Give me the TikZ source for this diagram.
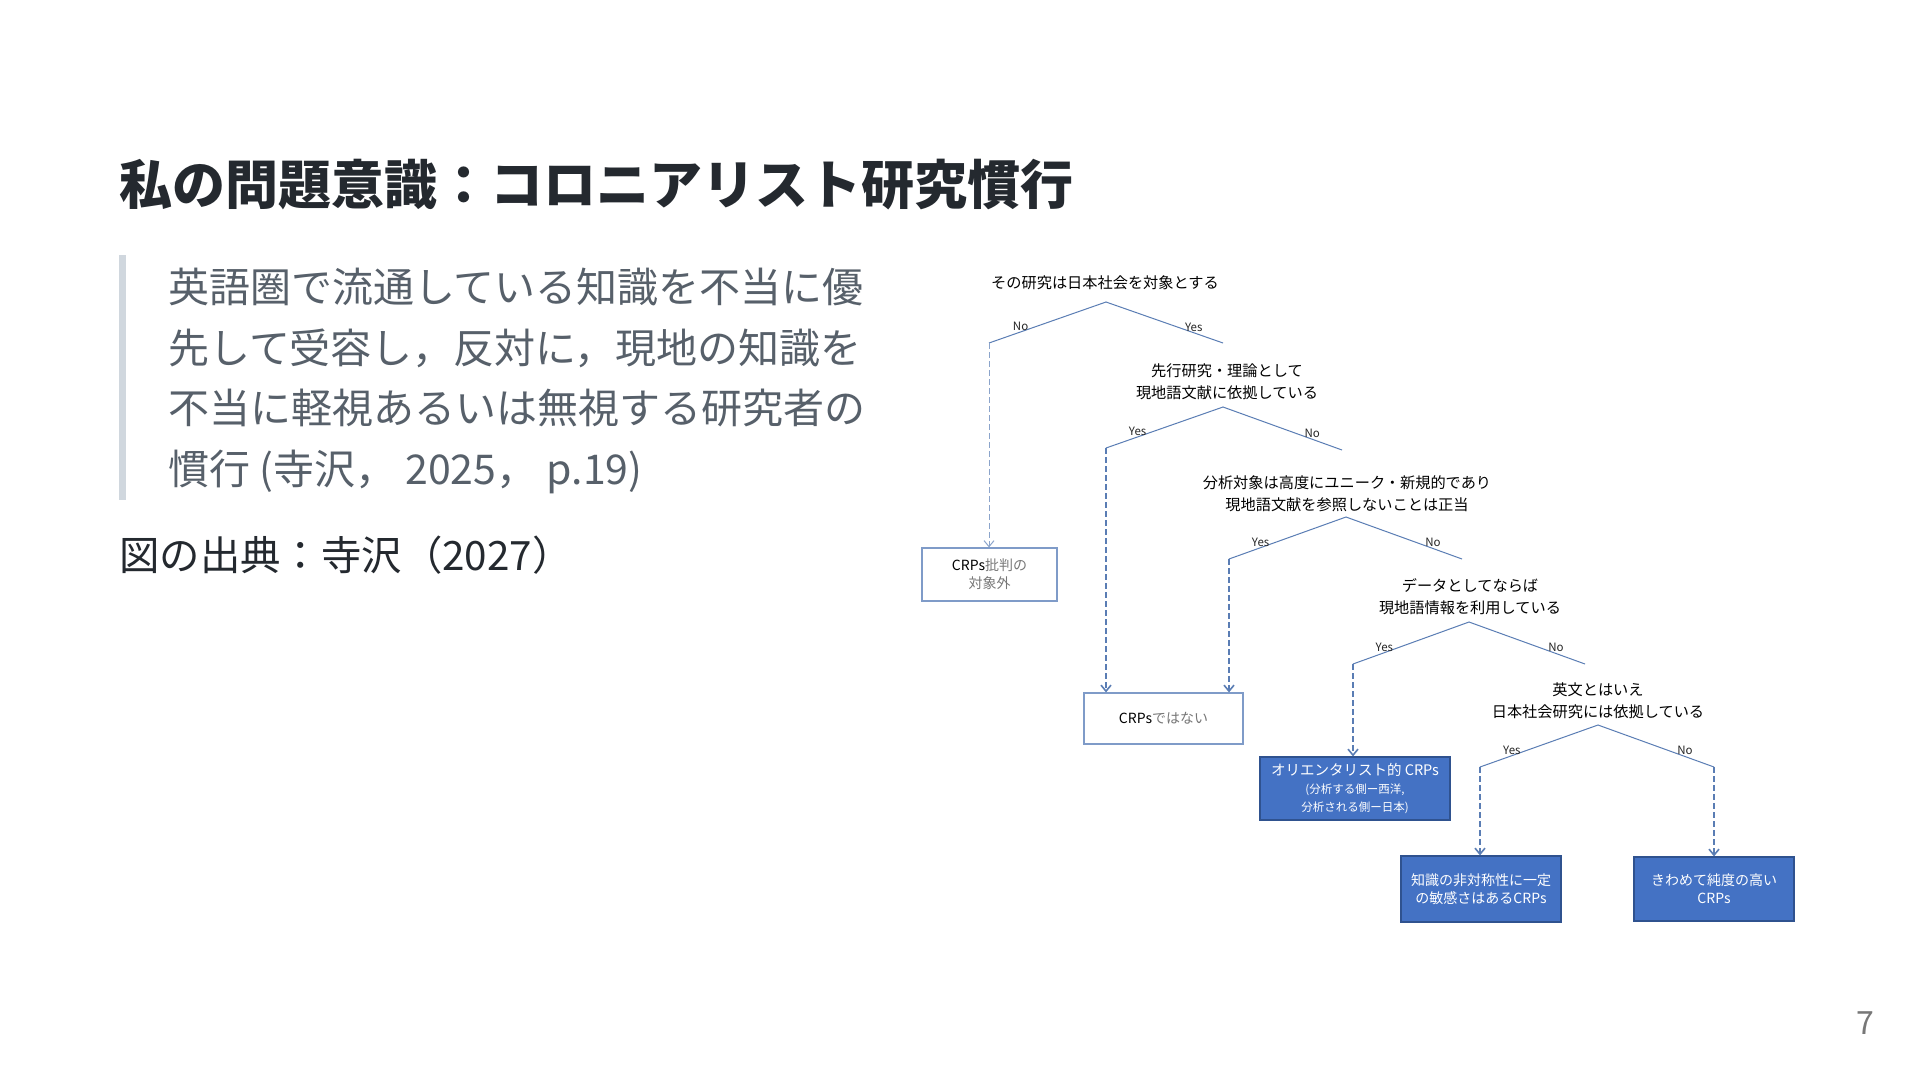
\documentclass[tikz,border=0pt]{standalone}
\usepackage{fontspec}
\setmainfont{Noto Sans CJK JP}
\usepackage{xcolor}
\usetikzlibrary{arrows.meta,positioning,calc}

\definecolor{titlegray}{HTML}{24292F}
\definecolor{quotegray}{HTML}{57606A}
\definecolor{barcolor}{HTML}{D0D7DE}
\definecolor{treeblue}{HTML}{5A7DB4}
\definecolor{boxline}{HTML}{7F9BC8}
\definecolor{crpblue}{HTML}{4472C4}
\definecolor{crpline}{HTML}{2F528F}
\definecolor{softgray}{HTML}{777777}

\begin{document}
\begin{tikzpicture}[
    x=1pt, y=-1pt,
    slidetext/.style={inner sep=0pt, anchor=base west},
    question/.style={align=center, inner sep=0pt, text=black, font=\fontsize{15.2}{22}\selectfont},
    answer/.style={inner sep=1pt, above=0pt, text=black!85, font=\fontsize{11.5}{12}\selectfont},
    branch/.style={draw=treeblue, line width=1pt},
    flow/.style={draw=treeblue, line width=1.6pt, dash pattern=on 6pt off 3pt, -{Straight Barb[length=6pt,width=10pt]}},
    outcome/.style={rectangle, draw=boxline, line width=1.2pt, fill=white, align=center, inner sep=2pt, text=softgray, font=\fontsize{14}{18}\selectfont},
    crps/.style={outcome, draw=crpline, fill=crpblue, text=white}
]
\useasboundingbox (0,0) rectangle (1920,1080);
\fill[white] (0,0) rectangle (1920,1080);

% Slide heading
\node[slidetext, text=titlegray, font=\fontsize{53}{60}\selectfont\bfseries] (title) at (119,204) {私の問題意識：コロニアリスト研究慣行};

% Quotation
\fill[barcolor] (119,255) rectangle (126,500);
\node[slidetext, text=quotegray, font=\fontsize{41}{48}\selectfont] (quote1) at (168,302) {英語圏で流通している知識を不当に優};
\node[slidetext, text=quotegray, font=\fontsize{41}{48}\selectfont] (quote2) at (168,363) {先して受容し，反対に，現地の知識を};
\node[slidetext, text=quotegray, font=\fontsize{41}{48}\selectfont] (quote3) at (168,423) {不当に軽視あるいは無視する研究者の};
\node[slidetext, text=quotegray, font=\fontsize{41}{48}\selectfont] (quote4) at (168,484) {慣行 (寺沢， 2025， p.19)};

% Source
\node[slidetext, text=titlegray, font=\fontsize{40.4}{46}\selectfont] (source) at (119,570) {図の出典：寺沢（2027）};

% Page number
\node[inner sep=0pt, anchor=base, text=softgray, font=\fontsize{32}{36}\selectfont] (pagenum) at (1865,1034) {7};

% Questions
\node[question] (q1) at (1105,283) {その研究は日本社会を対象とする};
\node[question] (q2) at (1227,382) {先行研究・理論として\\現地語文献に依拠している};
\node[question] (q3) at (1347,494) {分析対象は高度にユニーク・新規的であり\\現地語文献を参照しないことは正当};
\node[question] (q4) at (1470,597) {データとしてならば\\現地語情報を利用している};
\node[question] (q5) at (1598,701) {英文とはいえ\\日本社会研究には依拠している};

% Branch points
\coordinate (q1-top) at (1106,302);
\coordinate (q1-no) at (989,343);
\coordinate (q1-yes) at (1223,343);
\coordinate (q2-top) at (1223,407);
\coordinate (q2-yes) at (1106,448);
\coordinate (q2-no) at (1342,450);
\coordinate (q3-top) at (1346,517);
\coordinate (q3-yes) at (1229,559);
\coordinate (q3-no) at (1462,559);
\coordinate (q4-top) at (1469,622);
\coordinate (q4-yes) at (1353,664);
\coordinate (q4-no) at (1585,664);
\coordinate (q5-top) at (1598,725);
\coordinate (q5-yes) at (1480,767);
\coordinate (q5-no) at (1714,767);

% Outcomes
\node[outcome, minimum width=135pt, minimum height=53pt] (out1) at (989.5,574.5) {{\color{black}CRPs}批判の\\対象外};
\node[outcome, minimum width=159pt, minimum height=51pt] (out2) at (1163.5,718.5) {{\color{black}CRPs}ではない};
\node[crps, minimum width=190pt, minimum height=63pt] (out3) at (1355,788.5) {\fontsize{14.5}{16}\selectfont オリエンタリスト的 CRPs\\\fontsize{11.5}{12.5}\selectfont (分析する側ー西洋,\\\fontsize{11.5}{12.5}\selectfont 分析される側ー日本)};
\node[crps, minimum width=160pt, minimum height=66pt] (out4) at (1481,889) {知識の非対称性に一定\\の敏感さはあるCRPs};
\node[crps, minimum width=160pt, minimum height=64pt] (out5) at (1714,889) {きわめて純度の高い\\CRPs};

% Branches
\draw[branch] (q1-no) -- node[answer, pos=.27] {No} (q1-top) -- node[answer, pos=.75] {Yes} (q1-yes);
\draw[branch] (q2-yes) -- node[answer, pos=.27] {Yes} (q2-top) -- node[answer, pos=.75] {No} (q2-no);
\draw[branch] (q3-yes) -- node[answer, pos=.27] {Yes} (q3-top) -- node[answer, pos=.75] {No} (q3-no);
\draw[branch] (q4-yes) -- node[answer, pos=.27] {Yes} (q4-top) -- node[answer, pos=.75] {No} (q4-no);
\draw[branch] (q5-yes) -- node[answer, pos=.27] {Yes} (q5-top) -- node[answer, pos=.75] {No} (q5-no);

% Arrows to outcomes
\draw[flow, draw=treeblue!70, line width=1pt] (q1-no) -- (q1-no |- out1.north);
\draw[flow] (q2-yes) -- (q2-yes |- out2.north);
\draw[flow] (q3-yes) -- (q3-yes |- out2.north);
\draw[flow] (q4-yes) -- (q4-yes |- out3.north);
\draw[flow] (q5-yes) -- (q5-yes |- out4.north);
\draw[flow] (q5-no) -- (q5-no |- out5.north);

\end{tikzpicture}
\end{document}
